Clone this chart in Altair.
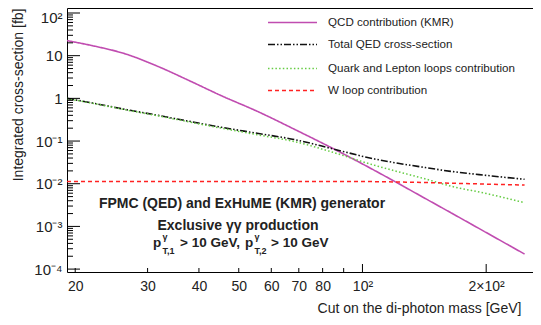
import altair as alt
import pandas as pd

# ---------------- data ----------------
mass = [19.1, 22, 26.5, 31.8, 37.9, 45.4, 55.4, 69.4, 85, 107, 120, 140, 164, 200, 248]
qcd = [22.5, 17.2, 11.0, 5.6, 2.6, 1.15, 0.50, 0.175, 0.066, 0.0205, 0.0112, 0.0049, 0.0021, 7.2e-4, 2.25e-4]
total_qed = [1.0, 0.78, 0.55, 0.40, 0.29, 0.21, 0.152, 0.105, 0.065, 0.038, 0.031, 0.0245, 0.0195, 0.0157, 0.0127]
quark_lepton = [0.99, 0.77, 0.54, 0.39, 0.28, 0.20, 0.141, 0.094, 0.054, 0.027, 0.020, 0.0135, 0.0088, 0.0059, 0.0036]
w_loop = [0.0113, 0.0113, 0.0113, 0.0113, 0.0113, 0.0113, 0.0113, 0.0113, 0.0113, 0.0112, 0.0110, 0.0107, 0.0103, 0.0098, 0.0093]

series_names = ["QCD contribution (KMR)", "Total QED cross-section",
                "Quark and Lepton loops contribution", "W loop contribution"]
series_values = [qcd, total_qed, quark_lepton, w_loop]

x_tick_values = [20, 30, 40, 50, 60, 70, 80, 100, 200]
x_minor_ticks = [20, 30, 40, 50, 60, 70, 80, 90]
x_major_ticks = [100, 200]
y_tick_values = [1e-4, 1e-3, 1e-2, 1e-1, 1, 10, 100]
y_minor_ticks = [m * 10.0 ** k for k in range(-4, 2) for m in range(2, 10)]

# ---------------- styles ----------------
FONT = "Liberation Sans"
W, H = 466, 264
colors = ["#c04cb0", "#111111", "#66cc44", "#ff2222"]
dashes = [[1, 0], [7, 2, 1.5, 2, 1.5, 2], [1.5, 2.2], [4, 3]]
widths = [1.6, 1.5, 1.4, 1.6]

rows = []
for name, vals in zip(series_names, series_values):
    for m, v in zip(mass, vals):
        rows.append({"series": name, "mass": m, "xs": v})
df = pd.DataFrame(rows)

xs = alt.Scale(type="log", domain=[19.1, 260], nice=False)
ys = alt.Scale(type="log", domain=[8.55e-5, 131], nice=False)

y_label_expr = ("datum.value > 50 ? '10²' : datum.value > 5 ? '10' : datum.value > 0.5 ? '1' : "
                "datum.value > 0.05 ? '10⁻¹' : datum.value > 0.005 ? '10⁻²' : "
                "datum.value > 0.0005 ? '10⁻³' : '10⁻⁴'")
x_label_expr = "datum.value == 100 ? '10²' : datum.value == 200 ? '2×10²' : format(datum.value, 'd')"

x_axis = alt.Axis(values=x_tick_values, labelExpr=x_label_expr, title="Cut on the di-photon mass [GeV]",
                  labelOverlap=False, labelFontSize=14, labelPadding=7, labelBaseline="top",
                  titleX=W - 12, titleY=40, titleAlign="right", titleBaseline="alphabetic",
                  titleFontSize=14, titleFontWeight="normal")
y_axis = alt.Axis(values=y_tick_values, labelExpr=y_label_expr, title="Integrated cross-section [fb]",
                  labelOverlap=False, labelFontSize=15, labelPadding=5, labelBound=False,
                  labelOffset={"condition": {"test": "datum.value > 50", "value": 4}, "value": 0},
                  titleX=-49, titleY=0, titleAlign="right", titleBaseline="middle", titleAngle=-90,
                  titleFontSize=14, titleFontWeight="normal")

lines = alt.Chart(df).mark_line(clip=True, interpolate="monotone").encode(
    x=alt.X("mass:Q", scale=xs, axis=x_axis),
    y=alt.Y("xs:Q", scale=ys, axis=y_axis),
    color=alt.Color("series:N", scale=alt.Scale(domain=series_names, range=colors), legend=None),
    strokeDash=alt.StrokeDash("series:N", scale=alt.Scale(domain=series_names, range=dashes), legend=None),
    strokeWidth=alt.StrokeWidth("series:N", scale=alt.Scale(domain=series_names, range=widths), legend=None),
)

# inward ticks (ROOT style)
def xticks(vals, ln):
    return alt.Chart(pd.DataFrame({"mass": vals})).mark_rule(color="black", strokeWidth=1).encode(
        x=alt.X("mass:Q", scale=xs, axis=x_axis), y=alt.value(H), y2=alt.value(H - ln))

def yticks(vals, ln):
    return alt.Chart(pd.DataFrame({"xs": vals})).mark_rule(color="black", strokeWidth=1).encode(
        y=alt.Y("xs:Q", scale=ys, axis=y_axis), x=alt.value(0), x2=alt.value(ln))

one = pd.DataFrame({"a": [0]})

# legend (manual)
leg_layers = []
leg_y = [14.5, 36.5, 60.5, 82.5]
for name, c, d, w, yy in zip(series_names, colors, dashes, widths, leg_y):
    leg_layers.append(alt.Chart(one).mark_rule(color=c, strokeDash=d, strokeWidth=w).encode(
        x=alt.value(201), x2=alt.value(250), y=alt.value(yy)))
    leg_layers.append(alt.Chart(one).mark_text(align="left", baseline="middle", font=FONT, fontSize=11.6,
                                               color="#222222").encode(
        x=alt.value(261), y=alt.value(yy), text=alt.value(name)))

# annotation text
def txt(s, x, y, size=14, align="center"):
    return alt.Chart(one).mark_text(align=align, baseline="alphabetic", font=FONT, fontSize=size,
                                    fontWeight="bold", color="#222222").encode(
        x=alt.value(x), y=alt.value(y), text=alt.value(s))

ann = [
    txt("FPMC (QED) and ExHuME (KMR) generator", 175, 200),
    txt("Exclusive γγ production", 171, 222),
    txt("p", 86, 239, size=13.5, align="left"),
    txt("γ", 95.5, 232, size=9, align="left"),
    txt("T,1", 95.5, 246, size=9, align="left"),
    txt("> 10 GeV,", 113, 239, size=13.5, align="left"),
    txt("p", 178, 239, size=13.5, align="left"),
    txt("γ", 187.5, 232, size=9, align="left"),
    txt("T,2", 187.5, 246, size=9, align="left"),
    txt("> 10 GeV", 204, 239, size=13.5, align="left"),
]

chart = alt.layer(
    lines,
    xticks(x_minor_ticks, 4), xticks(x_major_ticks, 8),
    yticks(y_tick_values, 13), yticks(y_minor_ticks, 6),
    *leg_layers, *ann,
).properties(
    width=W, height=H,
    autosize=alt.AutoSizeParams(type="none"),
    padding={"left": 59, "top": 0, "right": 0, "bottom": 45},
).configure_view(
    stroke="black", strokeWidth=1
).configure_axis(
    domain=False, ticks=False, grid=False, labelFont=FONT, titleFont=FONT,
    labelColor="#222222", titleColor="#222222"
)

chart.save("out.html", embed_options={"renderer": "svg", "actions": False})
